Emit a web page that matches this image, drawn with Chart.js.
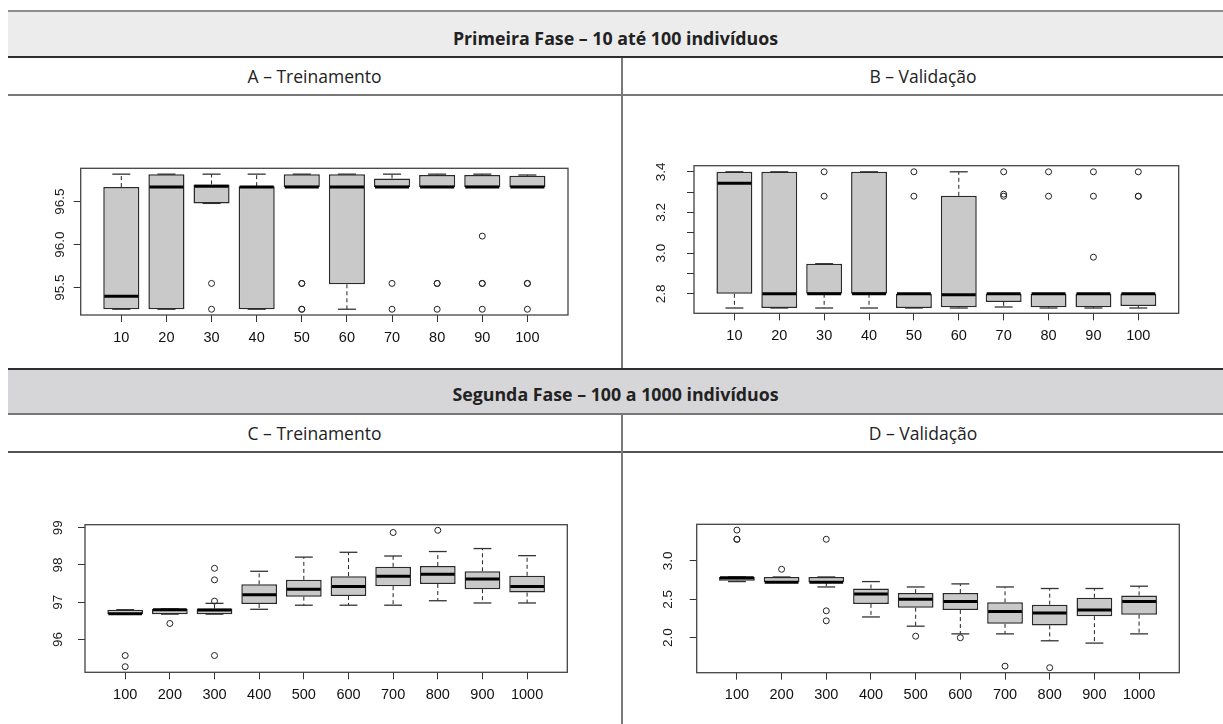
<!DOCTYPE html>
<html>
<head>
<meta charset="utf-8">
<script src="https://cdn.jsdelivr.net/npm/chart.js@4.4.0/dist/chart.umd.min.js"></script>
<style>
  body { margin: 0; width: 1223px; height: 724px; background: #fff; position: relative; overflow: hidden; }
  .band { position: absolute; box-sizing: border-box; display: flex; align-items: center; justify-content: center;
          font-family: "Open Sans", sans-serif; color: #222; white-space: nowrap; }
  .rule { position: absolute; }
  canvas { position: absolute; }
</style>
</head>
<body>
<div class="band" style="left:8px; top:10px; width:1215px; height:48px; background:#ececec; border-top:2px solid #8e8e8e; border-bottom:2px solid #2e2e2e; font-weight:bold; font-size:17.8px; padding-top:7px;">Primeira Fase – 10 até 100 indivíduos</div>
<div class="band" style="left:8px; top:58px; width:613px; height:36px; font-size:17.5px;">A – Treinamento</div>
<div class="band" style="left:623px; top:58px; width:600px; height:36px; font-size:17.5px;">B – Validação</div>
<div class="rule" style="left:8px; top:94px; width:1215px; height:2px; background:#777;"></div>
<div class="rule" style="left:621px; top:58px; width:2px; height:310px; background:#7a7a7a;"></div>

<div class="band" style="left:8px; top:368px; width:1215px; height:47px; background:#d6d6d8; border-top:2px solid #2e2e2e; border-bottom:2px solid #777; font-weight:bold; font-size:17.8px; padding-top:5px;">Segunda Fase – 100 a 1000 indivíduos</div>
<div class="band" style="left:8px; top:415px; width:613px; height:36px; font-size:17.5px;">C – Treinamento</div>
<div class="band" style="left:623px; top:415px; width:600px; height:36px; font-size:17.5px;">D – Validação</div>
<div class="rule" style="left:8px; top:451px; width:1215px; height:2px; background:#555;"></div>
<div class="rule" style="left:621px; top:415px; width:2px; height:309px; background:#7a7a7a;"></div>

<canvas id="chartA" width="613" height="273" style="left:8px; top:96px;"></canvas>
<canvas id="chartB" width="600" height="273" style="left:623px; top:96px;"></canvas>
<canvas id="chartC" width="613" height="271" style="left:8px; top:453px;"></canvas>
<canvas id="chartD" width="600" height="271" style="left:623px; top:453px;"></canvas>

<script>
// Primeira fase (10 a 100)
const catsFase1 = ["10", "20", "30", "40", "50", "60", "70", "80", "90", "100"];
// A - Treinamento
const minA = [95.25, 95.25, 96.48, 95.25, 96.67, 95.25, 96.67, 96.67, 96.67, 96.67];
const q1A  = [95.25, 95.25, 96.48, 95.25, 96.67, 95.54, 96.67, 96.67, 96.67, 96.67];
const medA = [95.40, 96.67, 96.68, 96.67, 96.67, 96.67, 96.67, 96.67, 96.67, 96.67];
const q3A  = [96.67, 96.82, 96.70, 96.68, 96.82, 96.82, 96.77, 96.81, 96.81, 96.80];
const maxA = [96.82, 96.82, 96.82, 96.82, 96.82, 96.82, 96.82, 96.82, 96.82, 96.81];
const outA = [[], [], [95.55, 95.25], [], [95.55, 95.55, 95.25, 95.25], [], [95.55, 95.25],
              [95.55, 95.55, 95.25], [96.10, 95.55, 95.55, 95.25], [95.55, 95.55, 95.25]];
const yTicksA = [95.5, 96.0, 96.5];
const yLabelsA = ["95.5", "96.0", "96.5"];

// B - Validação
const minB = [2.73, 2.73, 2.73, 2.73, 2.73, 2.73, 2.735, 2.73, 2.73, 2.73];
const q1B  = [2.80, 2.73, 2.80, 2.80, 2.73, 2.734, 2.76, 2.734, 2.734, 2.74];
const medB = [3.344, 2.80, 2.80, 2.80, 2.80, 2.795, 2.80, 2.80, 2.80, 2.80];
const q3B  = [3.40, 3.40, 2.948, 3.40, 2.80, 3.282, 2.80, 2.80, 2.80, 2.80];
const maxB = [3.40, 3.40, 2.948, 3.40, 2.80, 3.40, 2.80, 2.80, 2.80, 2.80];
const outB = [[], [], [3.40, 3.28], [], [3.40, 3.28], [], [3.40, 3.28, 3.29],
              [3.40, 3.28], [3.40, 3.28, 2.98], [3.40, 3.28, 3.28]];
const yTicksB = [2.8, 2.9, 3.0, 3.1, 3.2, 3.3, 3.4];
const yLabelsB = ["2.8", "", "3.0", "", "3.2", "", "3.4"];

// Segunda fase (100 a 1000)
const catsFase2 = ["100", "200", "300", "400", "500", "600", "700", "800", "900", "1000"];
// C - Treinamento
const minC = [96.68, 96.68, 96.68, 96.81, 96.92, 96.92, 96.92, 97.04, 96.98, 96.98];
const q1C  = [96.68, 96.68, 96.68, 96.95, 97.15, 97.17, 97.43, 97.49, 97.35, 97.26];
const medC = [96.69, 96.80, 96.79, 97.20, 97.35, 97.42, 97.70, 97.75, 97.62, 97.42];
const q3C  = [96.80, 96.82, 96.83, 97.48, 97.60, 97.70, 97.95, 97.97, 97.83, 97.71];
const maxC = [96.80, 96.82, 96.97, 97.83, 98.21, 98.34, 98.24, 98.36, 98.44, 98.25];
const outC = [[95.57, 95.27], [96.43], [97.91, 97.60, 97.03, 95.57], [], [], [], [98.87], [98.93], [], []];
const yTicksC = [96, 97, 98, 99];
const yLabelsC = ["96", "97", "98", "99"];

// D - Validação
const minD = [2.73, 2.72, 2.66, 2.27, 2.15, 2.05, 2.05, 1.96, 1.93, 2.05];
const q1D  = [2.74, 2.72, 2.72, 2.44, 2.39, 2.36, 2.18, 2.16, 2.28, 2.30];
const medD = [2.78, 2.72, 2.72, 2.57, 2.50, 2.47, 2.34, 2.32, 2.36, 2.47];
const q3D  = [2.79, 2.79, 2.79, 2.64, 2.58, 2.58, 2.46, 2.43, 2.52, 2.55];
const maxD = [2.79, 2.79, 2.79, 2.73, 2.66, 2.70, 2.66, 2.64, 2.64, 2.67];
const outD = [[3.40, 3.28, 3.28], [2.89], [3.28, 2.35, 2.22], [], [2.02], [2.00], [1.63], [1.61], [], []];
const yTicksD = [2.0, 2.5, 3.0];
const yLabelsD = ["2.0", "2.5", "3.0"];

// plot region inside each canvas (R style frame)
const panels = [
  { id: "chartA", cats: catsFase1, min: minA, q1: q1A, med: medA, q3: q3A, max: maxA, out: outA,
    yMin: 95.183, yMax: 96.888, yTicks: yTicksA, yLabels: yLabelsA,
    area: { l: 72.7, t: 72.3, r: 560, b: 219 }, labelGap: 20.7 },
  { id: "chartB", cats: catsFase1, min: minB, q1: q1B, med: medB, q3: q3B, max: maxB, out: outB,
    yMin: 2.704, yMax: 3.43, yTicks: yTicksB, yLabels: yLabelsB,
    area: { l: 71, t: 69.7, r: 555.7, b: 217.3 }, labelGap: 33 },
  { id: "chartC", cats: catsFase2, min: minC, q1: q1C, med: medC, q3: q3C, max: maxC, out: outC,
    yMin: 95.12, yMax: 99.08, yTicks: yTicksC, yLabels: yLabelsC,
    area: { l: 77, t: 71.7, r: 559.3, b: 219.3 }, labelGap: 26.7 },
  { id: "chartD", cats: catsFase2, min: minD, q1: q1D, med: medD, q3: q3D, max: maxD, out: outD,
    yMin: 1.545, yMax: 3.475, yTicks: yTicksD, yLabels: yLabelsD,
    area: { l: 73.7, t: 71.3, r: 556.3, b: 219.7 }, labelGap: 28.4 }
];

const Y_AXIS_W = 10;
const X_AXIS_H = 40;

// whiskers, medians, frame and rotated y labels, all placed with the chart's scales
function boxPlugin(p) {
  return {
    id: "boxExtras",
    beforeDatasetsDraw(chart) {
      const { ctx, scales: { x, y } } = chart;
      ctx.save();
      p.cats.forEach((c, i) => {
        const cx = x.getPixelForValue(i + 1);
        const s0 = x.getPixelForValue(i + 1 - 0.2);
        const s1 = x.getPixelForValue(i + 1 + 0.2);
        ctx.strokeStyle = "#222";
        ctx.lineWidth = 1;
        ctx.setLineDash([4, 3]);
        [[p.q3[i], p.max[i]], [p.q1[i], p.min[i]]].forEach(([from, to]) => {
          if (Math.abs(to - from) < 1e-9) return;
          ctx.beginPath();
          ctx.moveTo(cx, y.getPixelForValue(from));
          ctx.lineTo(cx, y.getPixelForValue(to));
          ctx.stroke();
        });
        // staples
        ctx.setLineDash([]);
        ctx.lineWidth = 1.3;
        ctx.strokeStyle = "#333";
        [p.max[i], p.min[i]].forEach(v => {
          const py = y.getPixelForValue(v);
          ctx.beginPath();
          ctx.moveTo(s0, py);
          ctx.lineTo(s1, py);
          ctx.stroke();
        });
      });
      ctx.restore();
    },
    afterDatasetsDraw(chart) {
      const { ctx, scales: { x, y } } = chart;
      ctx.save();
      ctx.strokeStyle = "#000";
      ctx.lineWidth = 3;
      p.cats.forEach((c, i) => {
        const py = y.getPixelForValue(p.med[i]);
        ctx.beginPath();
        ctx.moveTo(x.getPixelForValue(i + 1 - 0.4) + 1, py);
        ctx.lineTo(x.getPixelForValue(i + 1 + 0.4) - 1, py);
        ctx.stroke();
      });
      ctx.restore();
    },
    afterDraw(chart) {
      const { ctx, chartArea, scales: { y } } = chart;
      ctx.save();
      ctx.strokeStyle = "#444";
      ctx.lineWidth = 1.3;
      ctx.strokeRect(chartArea.left, chartArea.top, chartArea.right - chartArea.left, chartArea.bottom - chartArea.top);
      ctx.font = '13.5px "Liberation Sans", Arial, sans-serif';
      ctx.fillStyle = "#1a1a1a";
      ctx.textAlign = "center";
      ctx.textBaseline = "middle";
      y.ticks.forEach((t, i) => {
        const lbl = p.yLabels[i];
        if (!lbl) return;
        ctx.save();
        ctx.translate(chartArea.left - p.labelGap, y.getPixelForValue(t.value));
        ctx.rotate(-Math.PI / 2);
        ctx.fillText(lbl, 0, 0);
        ctx.restore();
      });
      ctx.restore();
    }
  };
}

panels.forEach(p => {
  const canvas = document.getElementById(p.id);
  const W = canvas.width, H = canvas.height;

  const boxes = p.cats.map((c, i) => ({ x: i + 1, y: [p.q1[i], p.q3[i]] }));
  const outliers = [];
  p.out.forEach((vals, i) => vals.forEach(v => outliers.push({ x: i + 1, y: v })));

  new Chart(canvas.getContext("2d"), {
    type: "bar",
    data: {
      datasets: [
        {
          type: "bar",
          data: boxes,
          backgroundColor: "#c9c9c9",
          borderColor: "#2a2a2a",
          borderWidth: 1.5,
          borderSkipped: false,
          categoryPercentage: 1,
          barPercentage: 0.8
        },
        {
          type: "scatter",
          data: outliers,
          pointStyle: "circle",
          pointRadius: 3,
          pointBorderWidth: 1,
          pointBorderColor: "#222",
          pointBackgroundColor: "rgba(0,0,0,0)"
        }
      ]
    },
    options: {
      responsive: false,
      animation: false,
      events: [],
      layout: {
        padding: {
          left: p.area.l - Y_AXIS_W,
          right: W - p.area.r,
          top: p.area.t,
          bottom: H - p.area.b - X_AXIS_H
        }
      },
      plugins: { legend: { display: false }, tooltip: { enabled: false } },
      scales: {
        x: {
          type: "linear",
          min: 0.1,
          max: 10.9,
          offset: false,
          afterFit(scale) { scale.height = X_AXIS_H; },
          afterBuildTicks(scale) { scale.ticks = p.cats.map((c, i) => ({ value: i + 1 })); },
          ticks: {
            autoSkip: false,
            maxRotation: 0,
            padding: 7,
            color: "#111",
            font: { family: '"Liberation Sans", Arial, sans-serif', size: 14.5 },
            callback: (v, i) => p.cats[i]
          },
          grid: { offset: false, drawOnChartArea: false, drawTicks: true, tickLength: 7, color: "#333" },
          border: { display: false }
        },
        y: {
          type: "linear",
          min: p.yMin,
          max: p.yMax,
          afterFit(scale) { scale.width = Y_AXIS_W; },
          afterBuildTicks(scale) { scale.ticks = p.yTicks.map(v => ({ value: v })); },
          ticks: { display: false, autoSkip: false },
          grid: { drawOnChartArea: false, drawTicks: true, tickLength: 7, color: "#333" },
          border: { display: false }
        }
      }
    },
    plugins: [boxPlugin(p)]
  });
});
</script>
</body>
</html>
